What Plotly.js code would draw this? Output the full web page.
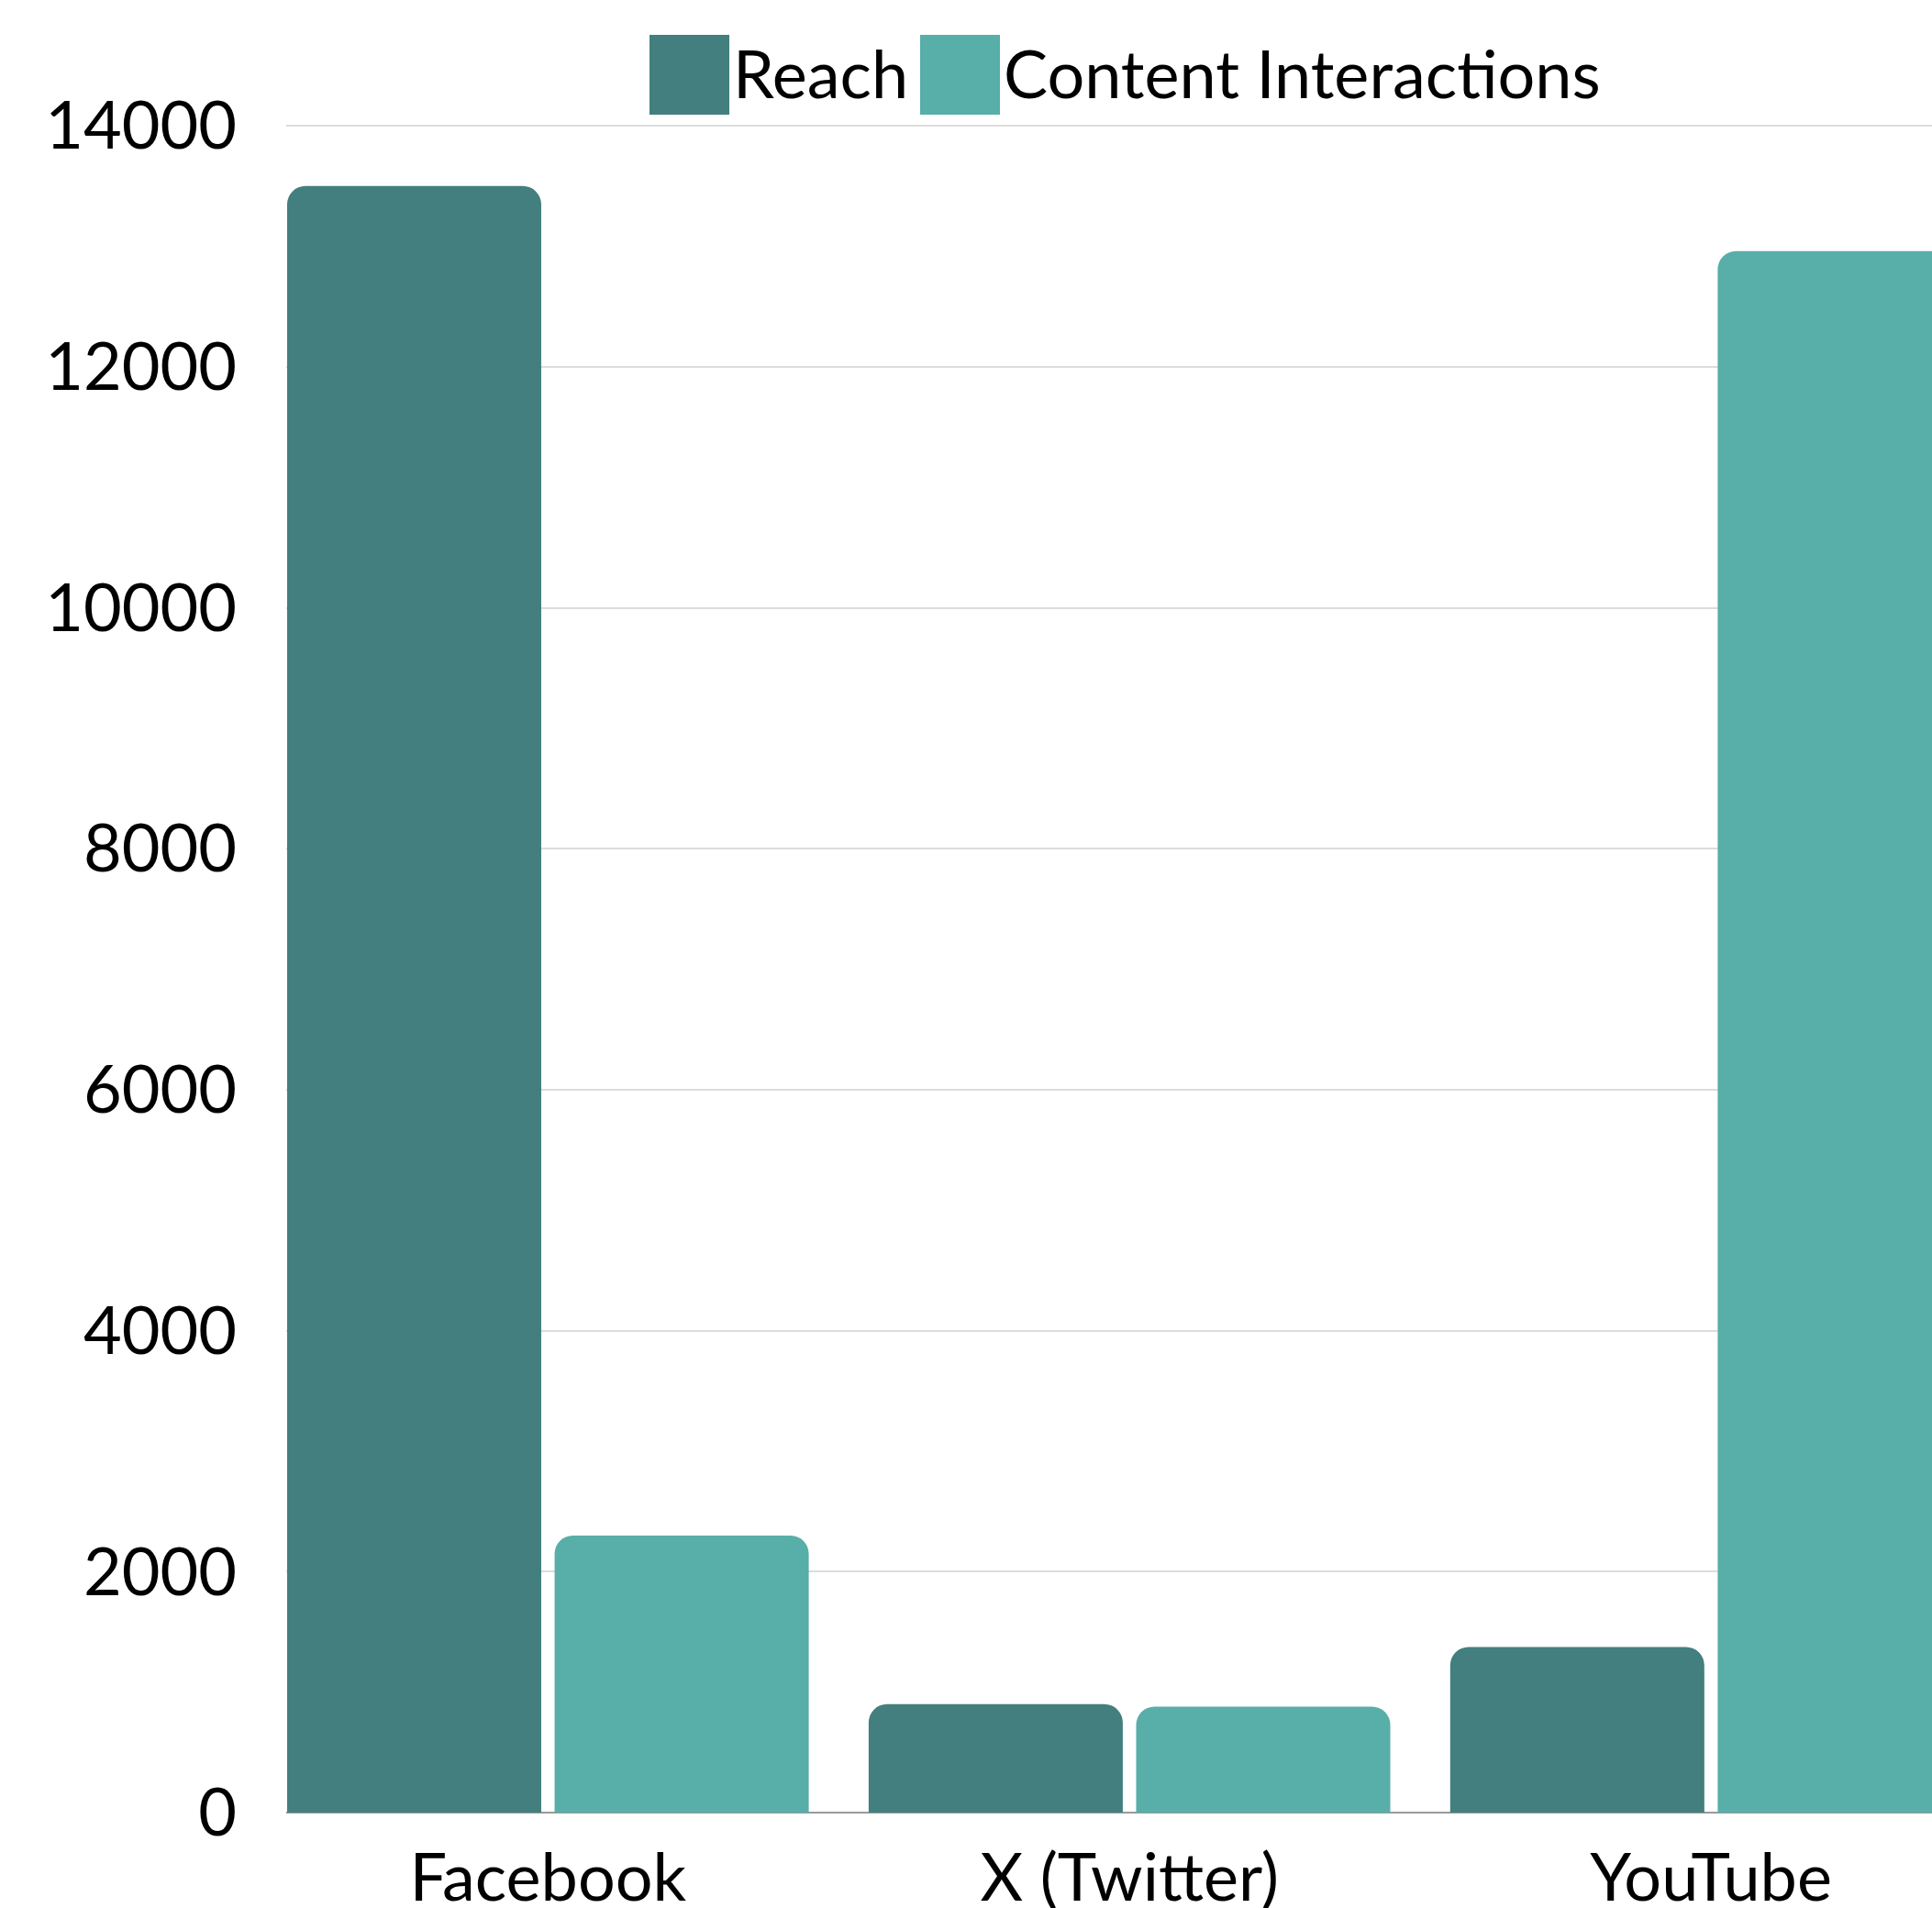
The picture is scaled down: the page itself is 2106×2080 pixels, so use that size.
<!DOCTYPE html>
<html>
<head>
<meta charset="utf-8">
<script src="https://cdn.plot.ly/plotly-3.0.1.min.js"></script>
<style>
  html, body { margin: 0; padding: 0; background: #ffffff; overflow: hidden; }
  #chart { width: 2106px; height: 2080px; }
</style>
</head>
<body>
<div id="chart"></div>
<script>
// ---- data ----
const categories = ['Facebook', 'X (Twitter)', 'YouTube'];
const seriesNames = ['Reach', 'Content Interactions'];
const reach = [13500, 900, 1375];
const contentInteractions = [2300, 880, 12960];
const yTickVals = [0, 2000, 4000, 6000, 8000, 10000, 12000, 14000];
const yTickText = ['0', '2000', '4000', '6000', '8000', '10000', '12000', '14000'];

// ---- styling ----
const colors = ['#427F7E', '#58AEA8'];
const W = 2106, H = 2080;
const M = { l: 312, r: 0, t: 124, b: 104 };
const plotW = W - M.l - M.r, plotH = H - M.t - M.b;
const xp = px => (px - M.l) / plotW;
const yp = py => (H - M.b - py) / plotH;
const FONT = 'Lato, "Open Sans", sans-serif';

const traces = [
  { type: 'bar', name: seriesNames[0], x: categories, y: reach,
    marker: { color: colors[0] } },
  { type: 'bar', name: seriesNames[1], x: categories, y: contentInteractions,
    marker: { color: colors[1] } }
];

// custom legend (large square swatches + labels)
const legendBoxes = [
  { x0: 708, x1: 795, textX: 797 },
  { x0: 1003, x1: 1090, textX: 1092 }
];
const shapes = legendBoxes.map((b, i) => ({
  type: 'rect', xref: 'paper', yref: 'paper',
  x0: xp(b.x0), x1: xp(b.x1), y0: yp(125), y1: yp(38),
  fillcolor: colors[i], line: { width: 0 }
}));
const annotations = legendBoxes.map((b, i) => ({
  xref: 'paper', yref: 'paper', x: xp(b.textX), y: yp(79),
  xanchor: 'left', yanchor: 'middle', showarrow: false,
  text: seriesNames[i], font: { family: FONT, size: 72, color: '#000000' }
}));

const layout = {
  width: W, height: H,
  margin: M,
  paper_bgcolor: '#ffffff', plot_bgcolor: '#ffffff',
  font: { family: FONT, size: 72, color: '#000000' },
  showlegend: false,
  barmode: 'group', bargap: 0.08, bargroupgap: 0.05, barcornerradius: 20,
  xaxis: {
    type: 'category', range: [-0.45, 2.38],
    showgrid: false, zeroline: false, showline: false, ticks: '',
    tickfont: { family: FONT, size: 72, color: '#000000' },
    ticklabelstandoff: 23
  },
  yaxis: {
    range: [0, 14100], tickvals: yTickVals, ticktext: yTickText,
    showgrid: true, gridcolor: '#dcdcdc', gridwidth: 2,
    zeroline: true, zerolinecolor: '#9a9a9a', zerolinewidth: 2,
    showline: false, ticks: '',
    tickfont: { family: FONT, size: 72, color: '#000000' },
    ticklabelstandoff: 53
  },
  shapes: shapes,
  annotations: annotations
};

Plotly.newPlot('chart', traces, layout, { displayModeBar: false, staticPlot: true });
</script>
</body>
</html>
